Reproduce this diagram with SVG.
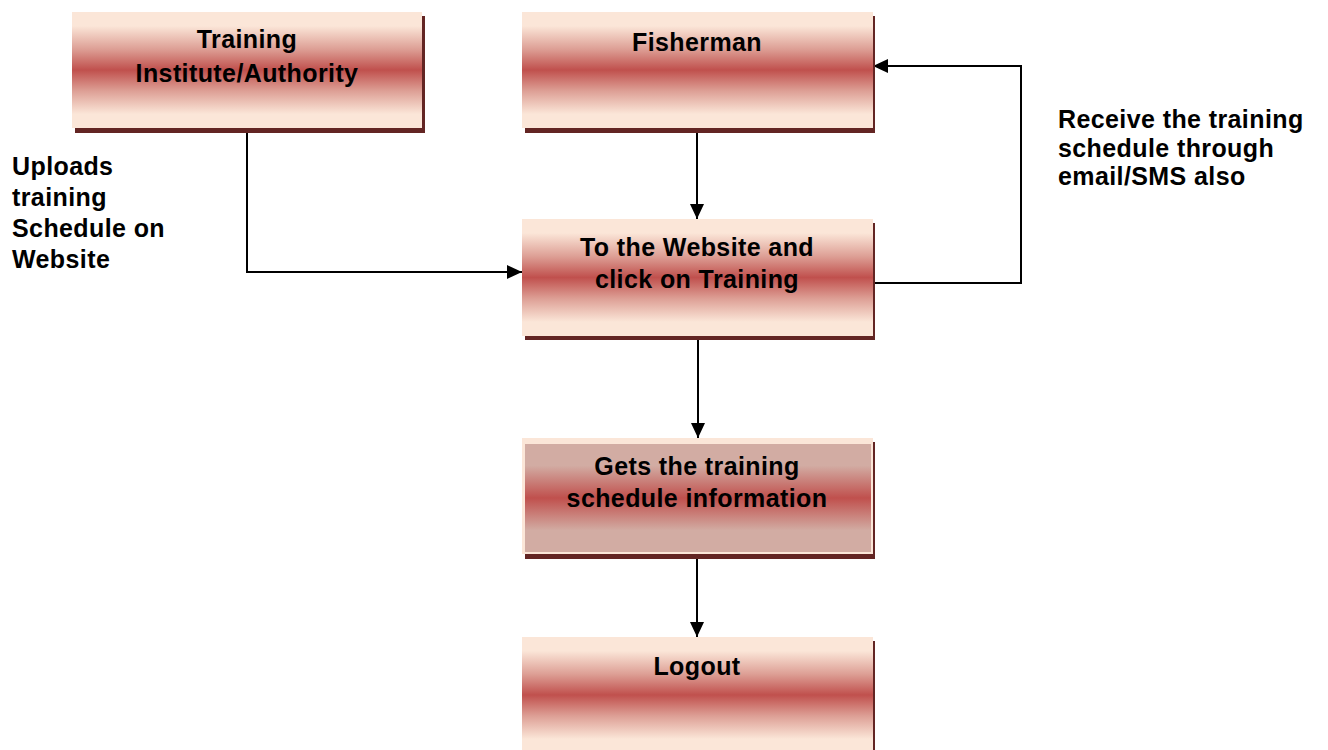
<svg xmlns="http://www.w3.org/2000/svg" width="1328" height="750" viewBox="0 0 1328 750">
<defs>
<linearGradient id="g" x1="0" y1="0" x2="0" y2="1">
<stop offset="0" stop-color="#fbe6d8"/>
<stop offset="0.12" stop-color="#fbe6d8"/>
<stop offset="0.32" stop-color="#dd9f95"/>
<stop offset="0.5" stop-color="#c0504d"/>
<stop offset="0.68" stop-color="#dd9f95"/>
<stop offset="0.88" stop-color="#fbe6d8"/>
<stop offset="1" stop-color="#fbe6d8"/>
</linearGradient>
<linearGradient id="g2" x1="0" y1="0" x2="0" y2="1">
<stop offset="0" stop-color="#d2aca3"/>
<stop offset="0.2" stop-color="#d2aca3"/>
<stop offset="0.5" stop-color="#c0504d"/>
<stop offset="0.8" stop-color="#d2aca3"/>
<stop offset="1" stop-color="#d2aca3"/>
</linearGradient>
<marker id="ah" markerWidth="15" markerHeight="14" refX="15" refY="7" orient="auto" markerUnits="userSpaceOnUse">
<path d="M0,0 L15,7 L0,14 Z" fill="#000"/>
</marker>
<style>
.sh{fill:#632523}
.bx{fill:url(#g)}
.t{font-family:"Liberation Sans",Arial,sans-serif;font-weight:bold;font-size:25px;fill:#000;letter-spacing:0.4px}
.c{text-anchor:middle}
.ln{fill:none;stroke:#000;stroke-width:2}
</style>
</defs>
<g id="connectors">
<path class="ln" d="M247,133 V272 H522" marker-end="url(#ah)"/>
<path class="ln" d="M697,133 V219" marker-end="url(#ah)"/>
<path class="ln" d="M873,283 H1021 V66 H873" marker-end="url(#ah)"/>
<path class="ln" d="M698,340 V438" marker-end="url(#ah)"/>
<path class="ln" d="M697,558 V637" marker-end="url(#ah)"/>
</g>
<g id="training-institute">
<rect class="sh" x="75" y="16" width="350" height="117"/>
<rect class="bx" x="72" y="12" width="350" height="116"/>
<text class="t c" x="247" y="48">Training</text>
<text class="t c" x="247" y="82">Institute/Authority</text>
</g>
<g id="fisherman">
<rect class="sh" x="525" y="16" width="350" height="117"/>
<rect class="bx" x="522" y="12" width="351" height="116"/>
<text class="t c" x="697" y="51">Fisherman</text>
</g>
<g id="website">
<rect class="sh" x="525" y="223" width="350" height="117"/>
<rect class="bx" x="522" y="219" width="351" height="117"/>
<text class="t c" x="697" y="256">To the Website and</text>
<text class="t c" x="697" y="288">click on Training</text>
</g>
<g id="gets-schedule">
<rect class="sh" x="525" y="442" width="350" height="117"/>
<rect x="522" y="438" width="351" height="116" fill="#fbe6d8"/>
<rect x="525" y="444" width="346" height="108" fill="url(#g2)"/>
<text class="t c" x="697" y="475">Gets the training</text>
<text class="t c" x="697" y="507">schedule information</text>
</g>
<g id="logout">
<rect class="sh" x="525" y="641" width="350" height="117"/>
<rect class="bx" x="522" y="637" width="351" height="116"/>
<text class="t c" x="697" y="675">Logout</text>
</g>
<g id="labels">
<text class="t" x="12" y="175">Uploads</text>
<text class="t" x="12" y="206">training</text>
<text class="t" x="12" y="237">Schedule on</text>
<text class="t" x="12" y="268">Website</text>
<text class="t" x="1058" y="128">Receive the training</text>
<text class="t" x="1058" y="157">schedule through</text>
<text class="t" x="1058" y="185">email/SMS also</text>
</g>
</svg>
